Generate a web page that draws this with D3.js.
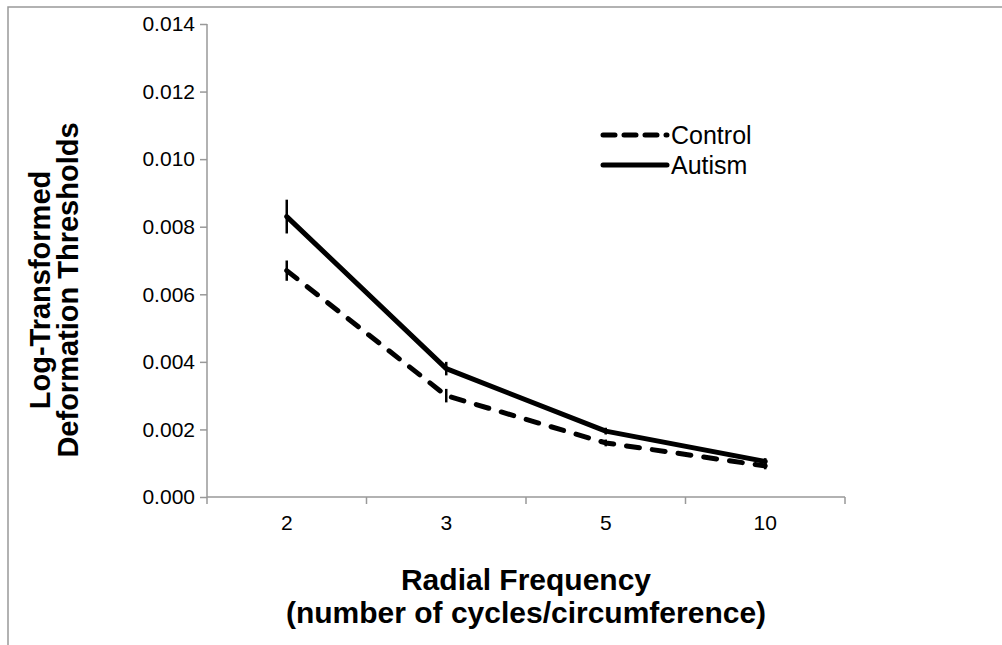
<!DOCTYPE html>
<html><head><meta charset="utf-8">
<script src="https://cdn.jsdelivr.net/npm/d3@7"></script>
<style>body{margin:0;background:#fff}svg{display:block}text{font-family:"Liberation Sans",Arial,sans-serif}</style>
</head><body><svg id="c" width="1002" height="645"></svg>
<script>
const categories = ["2", "3", "5", "10"];
const controlValues = [0.0067, 0.0030, 0.0016, 0.00092];
const controlErrors = [0.0003, 0.0002, 0.0001, 0.0001];
const autismValues = [0.0083, 0.0038, 0.00195, 0.00105];
const autismErrors = [0.0005, 0.0002, 0.0001, 0.0001];
const yTicks = [0, 0.002, 0.004, 0.006, 0.008, 0.010, 0.012, 0.014];
const seriesNames = ["Control", "Autism"];

const svg = d3.select("#c");
svg.append("rect").attr("x",8).attr("y",7).attr("width",1100).attr("height",700)
  .attr("fill","none").attr("stroke","#999").attr("stroke-width",1.5);

const x = d3.scaleBand().domain(categories).range([207, 845]);
const y = d3.scaleLinear().domain([0, 0.014]).range([497, 24]);

const gy = svg.append("g").attr("transform","translate(207,0)")
  .call(d3.axisLeft(y).tickValues(yTicks).tickFormat(d3.format(".3f")).tickSize(7).tickPadding(5));
const gx = svg.append("g").attr("transform","translate(0,497)")
  .call(d3.axisBottom(x).tickSize(0).tickPadding(18));
[gy,gx].forEach(g=>{g.selectAll("path,line").attr("stroke","#999").attr("stroke-width",1.5);
  g.attr("font-size",21).attr("font-family","Liberation Sans, Arial, sans-serif");
  g.selectAll("text").attr("fill","#000");
  g.select(".domain").attr("d", null);});
svg.append("line").attr("x1",207).attr("x2",207).attr("y1",24).attr("y2",497).attr("stroke","#999").attr("stroke-width",1.5);
svg.append("line").attr("x1",207).attr("x2",845).attr("y1",497).attr("y2",497).attr("stroke","#999").attr("stroke-width",1.5);
svg.append("g").selectAll("line").data(categories.concat(["end"])).join("line")
  .attr("x1",(d,i)=>207+i*x.bandwidth()).attr("x2",(d,i)=>207+i*x.bandwidth())
  .attr("y1",497).attr("y2",504).attr("stroke","#999").attr("stroke-width",1.5);

const cx = d => x(d) + x.bandwidth()/2;
const line = d3.line().x(d=>cx(d[0])).y(d=>y(d[1]));
const series = [
  {name:seriesNames[0], vals:controlValues, errs:controlErrors, dash:"13,13"},
  {name:seriesNames[1], vals:autismValues, errs:autismErrors, dash:null}
];
series.forEach(s=>{
  const pts = categories.map((c,i)=>[c,s.vals[i]]);
  svg.append("path").attr("d",line(pts)).attr("fill","none").attr("stroke","#000")
    .attr("stroke-width",5).attr("stroke-linecap","round").attr("stroke-linejoin","round")
    .attr("stroke-dasharray",s.dash);
  svg.append("g").selectAll("line").data(categories).join("line")
    .attr("x1",c=>cx(c)).attr("x2",c=>cx(c))
    .attr("y1",(c,i)=>y(s.vals[i]+s.errs[i])).attr("y2",(c,i)=>y(s.vals[i]-s.errs[i]))
    .attr("stroke","#000").attr("stroke-width",2.5);
});

// legend
const leg = svg.append("g");
series.forEach((s,i)=>{
  const ly = 135 + i*30;
  leg.append("line").attr("x1",603).attr("x2",667).attr("y1",ly).attr("y2",ly)
    .attr("stroke","#000").attr("stroke-width",5).attr("stroke-linecap","round")
    .attr("stroke-dasharray", s.dash ? "12,9" : null);
  leg.append("text").attr("x",671).attr("y",ly).attr("dy","0.36em").attr("font-size",25).text(s.name);
});

// axis titles
svg.append("text").attr("x",526).attr("y",590).attr("text-anchor","middle")
  .attr("font-size",30).attr("font-weight","bold").text("Radial Frequency");
svg.append("text").attr("x",526).attr("y",623).attr("text-anchor","middle")
  .attr("font-size",30).attr("font-weight","bold").text("(number of cycles/circumference)");
const yt = svg.append("g").attr("transform","translate(0,290) rotate(-90)");
yt.append("text").attr("x",0).attr("y",50).attr("text-anchor","middle")
  .attr("font-size",29).attr("font-weight","bold").text("Log-Transformed");
yt.append("text").attr("x",0).attr("y",78).attr("text-anchor","middle")
  .attr("font-size",29).attr("font-weight","bold").text("Deformation Thresholds");
</script></body></html>
